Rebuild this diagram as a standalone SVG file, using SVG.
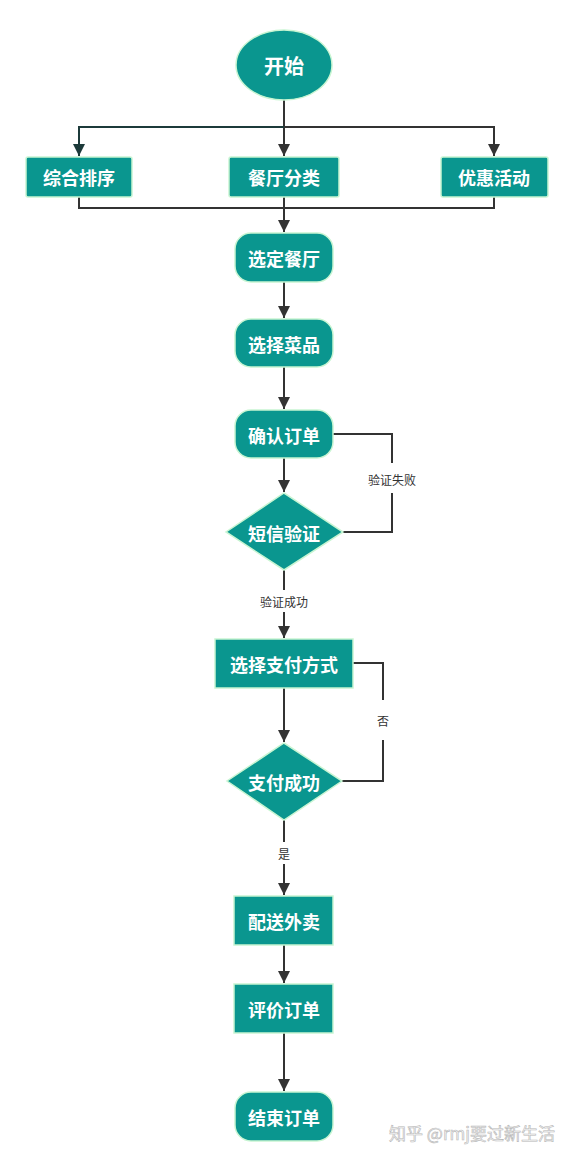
<svg xmlns="http://www.w3.org/2000/svg" width="574" height="1167" viewBox="0 0 574 1167">
<style>
.n{fill:#0a968f;stroke:#c8f5d2;stroke-width:1.5}
.t{font-family:"Noto Sans CJK SC","Noto Sans",sans-serif;font-weight:bold;font-size:18px;fill:#ffffff;text-anchor:middle;dominant-baseline:central}
.l{fill:none;stroke:#333333;stroke-width:2}
.lb{font-family:"Noto Sans CJK SC","Noto Sans",sans-serif;font-size:12px;fill:#333333;text-anchor:middle;dominant-baseline:central}
</style>
<defs>
<marker id="a" viewBox="0 0 10 10" refX="10" refY="5" markerWidth="6.5" markerHeight="6" orient="auto" markerUnits="strokeWidth"><path d="M0,0 L10,5 L0,10 z" fill="#333333"/></marker>
<marker id="a2" viewBox="0 0 10 10" refX="10" refY="5" markerWidth="6.5" markerHeight="6" orient="auto" markerUnits="strokeWidth"><path d="M0,0 L10,5 L0,10 z" fill="#1c3a3a"/></marker>
</defs>
<rect width="574" height="1167" fill="#ffffff"/>
<g id="connectors">
<path class="l" d="M284,100 V156" marker-end="url(#a)"/>
<path class="l" d="M284,127 H79 V156" style="stroke:#1c3a3a" marker-end="url(#a2)"/>
<path class="l" d="M284,127 H494 V156" marker-end="url(#a)"/>
<path class="l" d="M79,197 V208 H494 V197"/>
<path class="l" d="M284,197 V232" marker-end="url(#a)"/>
<path class="l" d="M284,282 V318" marker-end="url(#a)"/>
<path class="l" d="M284,367 V409" marker-end="url(#a)"/>
<path class="l" d="M284,458 V492" marker-end="url(#a)"/>
<path class="l" d="M333,434 H392 V463"/>
<path class="l" d="M392,493 V532 H343"/>
<path class="l" d="M284,570 V590"/>
<path class="l" d="M284,612 V638" marker-end="url(#a)"/>
<path class="l" d="M284,688 V742" marker-end="url(#a)"/>
<path class="l" d="M353,663 H383 V700"/>
<path class="l" d="M383,740 V781 H342"/>
<path class="l" d="M284,820 V842"/>
<path class="l" d="M284,864 V895" marker-end="url(#a)"/>
<path class="l" d="M284,945 V983" marker-end="url(#a)"/>
<path class="l" d="M284,1033 V1091" marker-end="url(#a)"/>
<text class="lb" x="392" y="479">验证失败</text>
<text class="lb" x="284" y="601">验证成功</text>
<text class="lb" x="383" y="720">否</text>
<text class="lb" x="284" y="853">是</text>
</g>
<g id="start"><ellipse class="n" cx="284" cy="65" rx="48" ry="35"/><text class="t" x="284" y="65" style="font-size:20px">开始</text></g>
<g id="sort"><rect class="n" x="26" y="157" width="106" height="40" rx="2"/><text class="t" x="79" y="177">综合排序</text></g>
<g id="category"><rect class="n" x="229" y="157" width="110" height="40" rx="2"/><text class="t" x="284" y="177">餐厅分类</text></g>
<g id="promo"><rect class="n" x="441" y="157" width="107" height="40" rx="2"/><text class="t" x="494" y="177">优惠活动</text></g>
<g id="select-restaurant"><rect class="n" x="235" y="233" width="98" height="49" rx="16"/><text class="t" x="284" y="258">选定餐厅</text></g>
<g id="select-dish"><rect class="n" x="235" y="319" width="98" height="48" rx="16"/><text class="t" x="284" y="344">选择菜品</text></g>
<g id="confirm"><rect class="n" x="235" y="410" width="98" height="48" rx="16"/><text class="t" x="284" y="435">确认订单</text></g>
<g id="sms"><polygon class="n" points="284,493 343,532 284,570 226,532"/><text class="t" x="284" y="533">短信验证</text></g>
<g id="pay-method"><rect class="n" x="215" y="639" width="138" height="49"/><text class="t" x="284" y="664">选择支付方式</text></g>
<g id="pay-ok"><polygon class="n" points="284,743 342,781 284,820 227,781"/><text class="t" x="284" y="782">支付成功</text></g>
<g id="deliver"><rect class="n" x="234" y="896" width="99" height="49"/><text class="t" x="284" y="921">配送外卖</text></g>
<g id="review"><rect class="n" x="234" y="984" width="99" height="49"/><text class="t" x="284" y="1009">评价订单</text></g>
<g id="end"><rect class="n" x="235" y="1092" width="98" height="49" rx="16"/><text class="t" x="284" y="1117">结束订单</text></g>
<text x="389" y="1140" style="font-family:'Noto Sans CJK SC','Noto Sans',sans-serif;font-size:17px;fill:#f6f6f6;stroke:#b8b8b8;stroke-width:0.6">知乎 @rmj要过新生活</text>
</svg>
